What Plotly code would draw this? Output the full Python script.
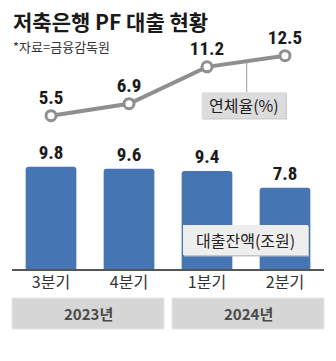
import plotly.graph_objects as go

quarters = ["3분기", "4분기", "1분기", "2분기"]
years = ["2023년", "2024년"]
loan_balance = [9.8, 9.6, 9.4, 7.8]      # 대출잔액(조원)
delinquency = [5.5, 6.9, 11.2, 12.5]     # 연체율(%)

W, H = 336, 361
ML, MR, MT, MB = 12, 12, 0, 92
PH = H - MT - MB  # plot height in px


def py(pix):
    """pixel y (from top) -> paper y"""
    return (H - MB - pix) / PH


def px(pix):
    return (pix - ML) / (W - ML - MR)


NUM_FONT = "Liberation Sans Narrow, Roboto Condensed, Liberation Sans, Arial"
KR_FONT = "Noto Sans CJK KR, Noto Sans, sans-serif"

fig = go.Figure()

fig.add_trace(go.Bar(
    x=quarters, y=loan_balance,
    marker=dict(color="#4575b3", cornerradius=3, line=dict(width=0)),
    width=0.65,
    text=[f"{v:.1f}" for v in loan_balance],
    textposition="outside",
    textfont=dict(family=NUM_FONT, size=19, color="#1a1a1a", weight="bold"),
    cliponaxis=False,
    yaxis="y",
))

fig.add_trace(go.Scatter(
    x=quarters, y=delinquency,
    mode="lines+markers+text",
    line=dict(color="#8f8f8f", width=4),
    marker=dict(size=10, color="white", line=dict(color="#8f8f8f", width=3)),
    text=[f"{v:.1f}" for v in delinquency],
    textposition="top center",
    textfont=dict(family=NUM_FONT, size=19, color="#1a1a1a", weight="bold"),
    cliponaxis=False,
    yaxis="y2",
))

shapes = []
annotations = []

# connector from line to legend box
shapes.append(dict(type="line", xref="paper", yref="paper",
                   x0=px(246.7), x1=px(246.7), y0=py(62), y1=py(92.3),
                   line=dict(color="#9a9a9a", width=1)))
# legend box 연체율(%)
shapes.append(dict(type="rect", xref="paper", yref="paper",
                   x0=px(202.5), x1=px(287), y0=py(119.5), y1=py(93),
                   fillcolor="#cccccc", line=dict(width=0)))
shapes.append(dict(type="rect", xref="paper", yref="paper",
                   x0=px(201.7), x1=px(285.7), y0=py(118.3), y1=py(92.3),
                   fillcolor="#dcdcdc", line=dict(width=0)))
annotations.append(dict(text="연체율(%)", xref="paper", yref="paper",
                        x=px(243.7), y=py(105.3), showarrow=False,
                        xanchor="center", yanchor="middle",
                        font=dict(family=KR_FONT, size=16, color="#222")))

# legend box 대출잔액(조원)
shapes.append(dict(type="rect", xref="paper", yref="paper",
                   x0=px(184), x1=px(309), y0=py(256.5), y1=py(226),
                   fillcolor="#c4c4c4", line=dict(width=0)))
shapes.append(dict(type="rect", xref="paper", yref="paper",
                   x0=px(183), x1=px(308), y0=py(255), y1=py(225),
                   fillcolor="#eeeeee", line=dict(width=0)))
annotations.append(dict(text="대출잔액(조원)", xref="paper", yref="paper",
                        x=px(245.5), y=py(240), showarrow=False,
                        xanchor="center", yanchor="middle",
                        font=dict(family=KR_FONT, size=16, color="#222")))

# year boxes
year_spans = [(12, 164), (172, 324)]
for yr, (a, b) in zip(years, year_spans):
    shapes.append(dict(type="rect", xref="paper", yref="paper",
                       x0=px(a), x1=px(b), y0=py(329), y1=py(298),
                       fillcolor="#d6d6d6", line=dict(color="#e6e6e6", width=1)))
    annotations.append(dict(text=yr, xref="paper", yref="paper",
                            x=px((a + b) / 2), y=py(313.5), showarrow=False,
                            xanchor="center", yanchor="middle",
                            font=dict(family=KR_FONT, size=15, color="#4a4a4a",
                                      weight="bold")))

# title & source
annotations.append(dict(text="저축은행 PF 대출 현황", xref="paper", yref="paper",
                        x=px(11), y=py(21), showarrow=False,
                        xanchor="left", yanchor="middle",
                        font=dict(family=KR_FONT, size=21, color="#1a1a1a",
                                  weight="bold")))
annotations.append(dict(text="*자료=금융감독원", xref="paper", yref="paper",
                        x=px(11), y=py(46.5), showarrow=False,
                        xanchor="left", yanchor="middle",
                        font=dict(family=KR_FONT, size=13, color="#333")))

fig.update_layout(
    width=W, height=H,
    margin=dict(l=ML, r=MR, t=MT, b=MB, pad=0),
    paper_bgcolor="white", plot_bgcolor="white",
    showlegend=False,
    xaxis=dict(type="category", range=[-0.5, 3.5], showgrid=False,
               showline=True, linecolor="#555", linewidth=1.5,
               ticks="", zeroline=False, ticklabelstandoff=-2,
               tickfont=dict(family=KR_FONT, size=16, color="#333")),
    yaxis=dict(range=[0, PH / 10.43], visible=False, showgrid=False),
    yaxis2=dict(range=[5.5 - (H - MB - 115.7) / 8.571, 5.5 + 115.7 / 8.571],
                overlaying="y", visible=False, showgrid=False),
    shapes=shapes,
    annotations=annotations,
    bargap=0.35,
)

fig.write_html("out.html")
